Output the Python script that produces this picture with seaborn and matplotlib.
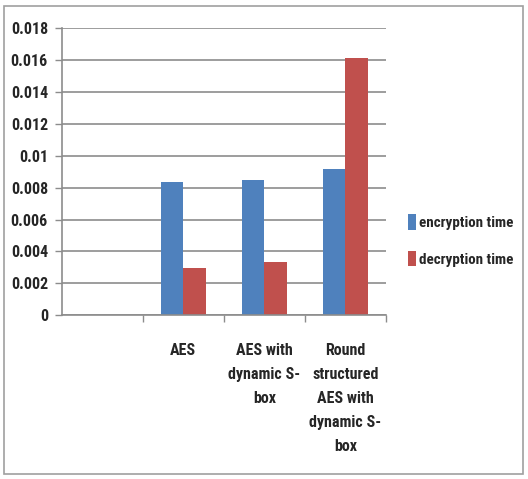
import matplotlib
matplotlib.use("Agg")
import matplotlib.pyplot as plt
from matplotlib import font_manager
from matplotlib.patches import Rectangle
import seaborn as sns
import pandas as pd
import numpy as np

categories = ["", "AES", "AES with dynamic S-box", "Round structured AES with dynamic S-box"]
tick_labels = ["", "AES", "AES with\ndynamic S-\nbox", "Round\nstructured\nAES with\ndynamic S-\nbox"]
encryption_time = [np.nan, 0.00837, 0.00848, 0.00919]
decryption_time = [np.nan, 0.00293, 0.00331, 0.01614]
series = ["encryption time", "decryption time"]
y_ticks = [0, 0.002, 0.004, 0.006, 0.008, 0.01, 0.012, 0.014, 0.016, 0.018]
y_tick_labels = ["0", "0.002", "0.004", "0.006", "0.008", "0.01", "0.012", "0.014", "0.016", "0.018"]

df = pd.DataFrame({
    "category": categories * 2,
    "series": [series[0]] * 4 + [series[1]] * 4,
    "value": encryption_time + decryption_time,
})

sns.set_theme(style="white")
installed = {f.name for f in font_manager.fontManager.ttflist}
narrow = [n for n in ["Liberation Sans Narrow", "DejaVu Sans Condensed", "Roboto Condensed",
                      "Open Sans Condensed", "Noto Sans Condensed"] if n in installed]
plt.rcParams["font.family"] = narrow + ["DejaVu Sans"]
fs = 11.5 if narrow else 9
legend_fs = 10.8 if narrow else 8.5

fig = plt.figure(figsize=(5.28, 4.79), dpi=100)
ax = fig.add_axes([0.117, 0.342, 0.614, 0.599])

sns.barplot(data=df, x="category", y="value", hue="series", order=categories,
            hue_order=series, palette=["#4F81BD", "#C0504D"], width=0.56,
            gap=0, linewidth=0, saturation=1, ax=ax, legend=True)

ax.set_ylim(0, 0.018)
ax.set_xlim(-0.5, 3.5)
ax.set_yticks(y_ticks)
ax.set_yticklabels(y_tick_labels, fontsize=fs, fontweight="bold")
ax.yaxis.grid(True, color="#8c8c8c", linewidth=1.2)
ax.set_axisbelow(True)

ax.set_xticks(range(len(categories)))
ax.set_xticklabels(tick_labels, fontsize=fs, fontweight="bold", linespacing=1.75, va="top")
ax.set_xticks([0.5, 1.5, 2.5, 3.5], minor=True)
ax.tick_params(axis="x", which="major", length=0, pad=20)
ax.tick_params(axis="x", which="minor", length=5, color="#8c8c8c", width=1, direction="out", bottom=True)
ax.tick_params(axis="y", length=5, color="#8c8c8c", width=1, direction="out", left=True, pad=5)
ax.set_xlabel("")
ax.set_ylabel("")

for s in ["top", "right"]:
    ax.spines[s].set_visible(False)
for s in ["left", "bottom"]:
    ax.spines[s].set_color("#8c8c8c")
    ax.spines[s].set_linewidth(1.2)

leg = ax.legend(loc="center left", bbox_to_anchor=(1.05, 0.26), frameon=False,
                fontsize=legend_fs, handlelength=0.55, handleheight=1.2, handletextpad=0.15,
                labelspacing=1.4, borderaxespad=0)
for t in leg.get_texts():
    t.set_fontweight("bold")

fig.patches.append(Rectangle((0.008, 0.01), 0.982, 0.978, transform=fig.transFigure,
                             fill=False, edgecolor="#a0a0a0", linewidth=1.2))

fig.savefig("out.png", dpi=100)
